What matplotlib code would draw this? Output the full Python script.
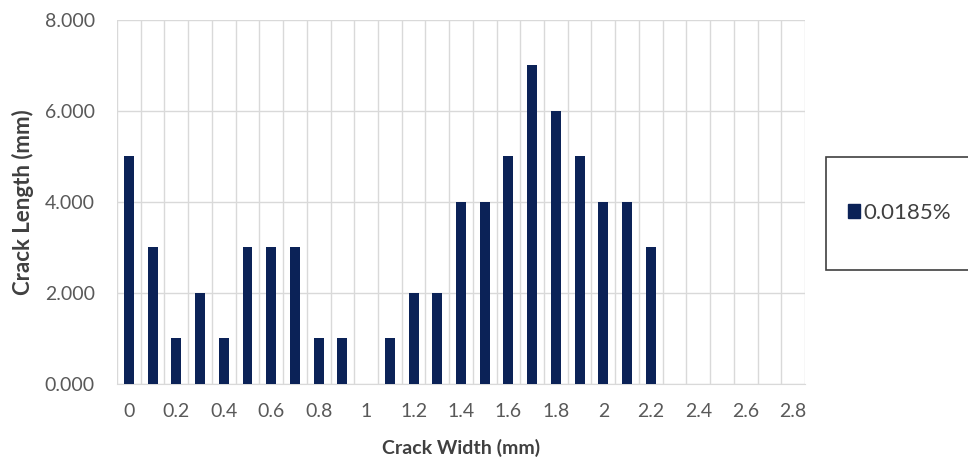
import matplotlib
matplotlib.use('Agg')
import matplotlib.pyplot as plt
from matplotlib.patches import Rectangle, Patch

# crack width classes (mm) and measured crack length (mm)
widths = ['0', '0.1', '0.2', '0.3', '0.4', '0.5', '0.6', '0.7', '0.8', '0.9',
          '1', '1.1', '1.2', '1.3', '1.4', '1.5', '1.6', '1.7', '1.8', '1.9',
          '2', '2.1', '2.2', '2.3', '2.4', '2.5', '2.6', '2.7', '2.8']
lengths = [5, 3, 1, 2, 1, 3, 3, 3, 1, 1,
           0, 1, 2, 2, 4, 4, 5, 7, 6, 5,
           4, 4, 3, 0, 0, 0, 0, 0, 0]
series_name = '0.0185%'
y_ticks = [0, 2, 4, 6, 8]

BAR = '#0b2257'
GRID = '#d9d9d9'
TXT = '#595959'

plt.rcParams['font.family'] = ['Lato', 'DejaVu Sans']

fig = plt.figure(figsize=(9.68, 4.65), dpi=100)
fig.patch.set_facecolor('white')
ax = fig.add_axes([0.1209, 0.1742, 0.7107, 0.7828])

x = list(range(len(widths)))
ax.bar(x, lengths, width=0.42, color=BAR, zorder=3)

ax.set_xlim(-0.5, len(widths) - 0.5)
ax.set_ylim(0, 8)

# vertical lines between categories
for i in range(len(widths) + 1):
    ax.axvline(i - 0.5, color=GRID, linewidth=1, zorder=1)
ax.set_yticks(y_ticks)
ax.set_yticklabels([f'{v:.3f}' for v in y_ticks])
ax.grid(axis='y', color=GRID, linewidth=1, zorder=1)

ax.set_xticks(x[::2])
ax.set_xticklabels(widths[::2])

for s in ['top', 'right', 'left']:
    ax.spines[s].set_visible(False)
ax.spines['bottom'].set_color(GRID)
ax.tick_params(axis='both', length=0, colors=TXT, labelsize=14)
ax.tick_params(axis='x', pad=14)
ax.tick_params(axis='y', pad=16)

ax.set_xlabel('Crack Width (mm)', fontsize=14, fontweight='bold', color='#404040', labelpad=13)
ax.set_ylabel('Crack Length (mm)', fontsize=16, fontweight='bold', color='#404040', labelpad=8)

# legend box on the right
fig.patches.append(Rectangle((826 / 968, 1 - 270 / 465), 0.2, 113 / 465,
                             transform=fig.transFigure, facecolor='white',
                             edgecolor='#404040', linewidth=1.2))
fig.legend(handles=[Patch(color=BAR, label=series_name)],
           loc='center left', bbox_to_anchor=(828 / 968, 1 - 213 / 465),
           frameon=False, fontsize=16, handlelength=0.55, handleheight=0.55,
           handletextpad=0.15, labelcolor='#404040')

fig.savefig('out.png', dpi=100, facecolor=fig.get_facecolor())
plt.close(fig)
